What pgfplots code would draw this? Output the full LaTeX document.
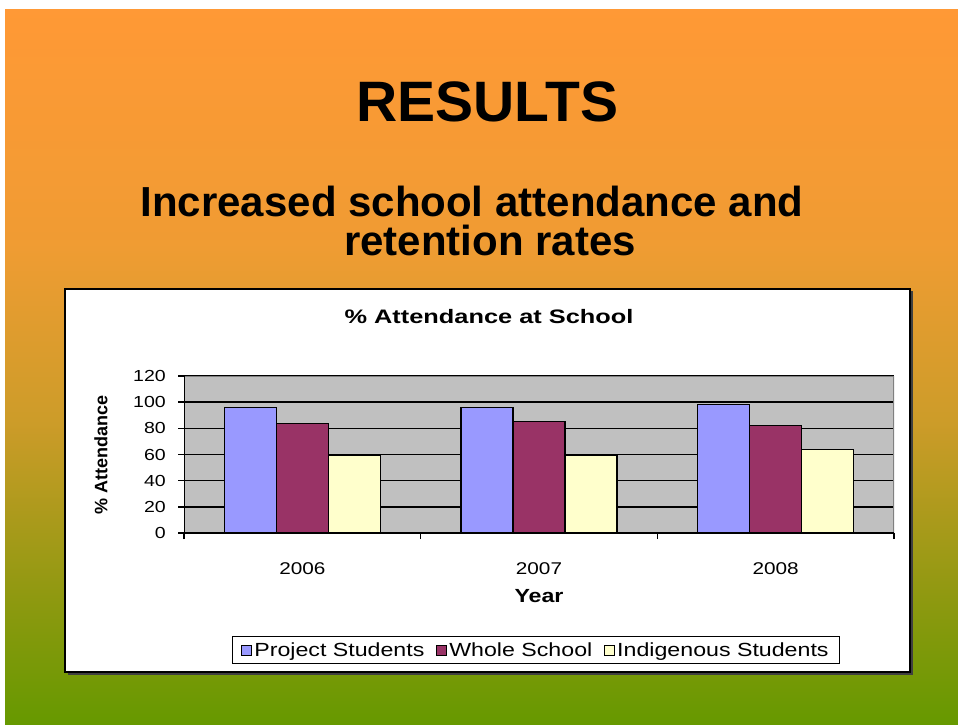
\documentclass[border=0pt]{standalone}
\usepackage{fontspec}
\setmainfont{Liberation Sans}
\newfontfamily\chartfont[FakeStretch=1.22]{Liberation Sans}
\newfontfamily\charttitlefont[FakeStretch=1.3]{Liberation Sans}
\usepackage{pgfplots}
\pgfplotsset{compat=1.18}
\definecolor{proj}{HTML}{9999FF}
\definecolor{whole}{HTML}{993366}
\definecolor{indig}{HTML}{FFFFCC}
\definecolor{plotgray}{HTML}{C0C0C0}
\pgfdeclareverticalshading{slidebg}{100bp}{
 rgb(0bp)=(0.40,0.60,0.0);
 rgb(25bp)=(0.40,0.60,0.0);
 rgb(33.4bp)=(0.55,0.60,0.06);
 rgb(46bp)=(0.80,0.61,0.16);
 rgb(58.6bp)=(0.94,0.61,0.20);
 rgb(75bp)=(1.0,0.60,0.21);
 rgb(100bp)=(1.0,0.60,0.21)}
\begin{document}
\begin{tikzpicture}[x=1pt,y=1pt]
\fill[white] (0,0) rectangle (958,724);
\shade[shading=slidebg] (5,0) rectangle (958,714);
\node[anchor=base, inner sep=0] at (487.5,602.3) {\fontsize{57}{60}\selectfont\bfseries RESULTS};
\node[anchor=base, inner sep=0] at (472,507) {\fontsize{42}{44}\selectfont\bfseries Increased school attendance and};
\node[anchor=base, inner sep=0] at (490,468) {\fontsize{42}{44}\selectfont\bfseries retention rates};
% chart box
\fill[black!75] (67.5,49.5) rectangle (912.5,432.5);
\draw[black, line width=1.2pt, fill=white] (65,52) rectangle (910,435);
\node[anchor=base, inner sep=0] at (489,400) {\charttitlefont\bfseries\fontsize{19.5}{20}\selectfont \% Attendance at School};
\begin{axis}[
  at={(184pt,191pt)}, anchor=south west,
  width=710pt, height=157pt, scale only axis,
  xmin=-0.5, xmax=2.5, ymin=0, ymax=120,
  ybar=0pt, bar width=52pt,
  xtick={0,1,2}, xticklabels={2006,2007,2008},
  minor xtick={-0.5,0.5,1.5,2.5},
  ytick={0,20,...,120},
  tick pos=left,
  tick align=outside,
  major tick length=6pt, minor tick length=6pt,
  major x tick style={draw=none},
  minor x tick style={black, line width=1.2pt},
  major y tick style={draw=black, line width=1.4pt},
  ymajorgrids, grid style={black, line width=1.5pt},
  axis background/.style={fill=plotgray},
  axis line style={draw=none},
  /pgf/number format/assume math mode=true,
  xticklabel style={font=\chartfont\fontsize{17}{17}\selectfont, anchor=base, yshift=-35.5pt},
  yticklabel style={font=\chartfont\fontsize{16}{16}\selectfont, anchor=east, inner sep=0pt, xshift=-12pt},
  ylabel={\% Attendance},
  ylabel style={at={(axis description cs:-0.117,0.5)}, anchor=center, inner sep=0pt, font=\bfseries\fontsize{18}{18}\selectfont},
  xlabel={Year},
  xlabel style={at={(axis description cs:0.5,-0.401)}, anchor=center, inner sep=0pt, font=\chartfont\bfseries\fontsize{19}{19}\selectfont},
  every axis plot/.append style={draw=black, line width=1.2pt},
  every axis plot post/.append style={legend image code/.code={\draw[##1, line width=0.9pt] (0pt,-5pt) rectangle (10pt,5pt);}},
  legend columns=3,
  legend style={at={(axis description cs:0.4958,-0.745)}, anchor=center, draw=black, line width=1pt, fill=white,
    font=\chartfont\fontsize{19}{19}\selectfont, inner ysep=4pt, inner xsep=9pt,
    /tikz/every even column/.append style={column sep=10pt}},
  legend entries={Project Students, Whole School, Indigenous Students},
]
\addplot[fill=proj] coordinates {(0,96) (1,96) (2,98)};
\addplot[fill=whole] coordinates {(0,84) (1,85) (2,82)};
\addplot[fill=indig] coordinates {(0,59) (1,59) (2,64)};
\draw[draw=black!50, line width=1.5pt] (rel axis cs:0,1) -- (rel axis cs:1,1) -- (rel axis cs:1,0);
\draw[black, line width=1.5pt] (rel axis cs:0,1) -- (rel axis cs:0,0) -- (rel axis cs:1,0);
\end{axis}
\end{tikzpicture}
\end{document}
